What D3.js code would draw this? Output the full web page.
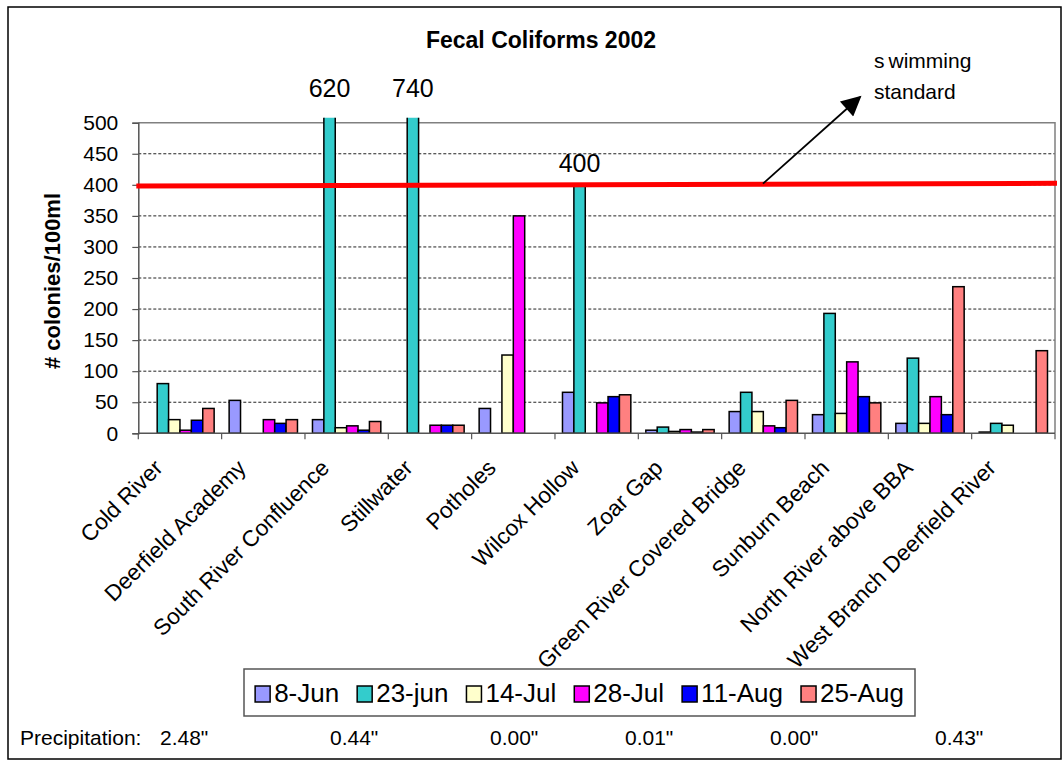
<!DOCTYPE html>
<html>
<head>
<meta charset="utf-8">
<script src="https://cdn.jsdelivr.net/npm/d3@7"></script>
<style>
  html, body { margin: 0; padding: 0; background: #fff; }
  svg { display: block; font-family: "Liberation Sans", Arial, sans-serif; }
</style>
</head>
<body>
<svg id="chart" width="1064" height="762"></svg>
<script>
// Sampling sites along the Deerfield watershed
const categories = [
  "Cold River", "Deerfield Academy", "South River Confluence", "Stillwater",
  "Potholes", "Wilcox Hollow", "Zoar Gap", "Green River Covered Bridge",
  "Sunburn Beach", "North River above BBA", "West Branch Deerfield River"
];

// Sampling dates (series)
const seriesNames = ["8-Jun", "23-jun", "14-Jul", "28-Jul", "11-Aug", "25-Aug"];

// Fecal coliform counts (# colonies / 100 ml); null = no sample
const jun8  = [null, 53, 22, null, 40, 66, 5, 35, 30, 16, 2];
const jun23 = [80, null, 620, 740, null, 400, 10, 66, 193, 121, 16];
const jul14 = [22, null, 9, null, 126, null, 3, 35, 32, 16, 13];
const jul28 = [5, 22, 12, 13, 350, 49, 6, 12, 115, 59, null];
const aug11 = [21, 16, 5, 13, null, 59, 2, 9, 59, 30, null];
const aug25 = [40, 22, 19, 13, null, 62, 6, 53, 49, 236, 133];

const seriesColors = ["#9999FF", "#33CCCC", "#FFFFCC", "#FF00FF", "#0000FF", "#FF8080"];

// Rainfall before each sampling date
const precipitation = ["2.48\"", "0.44\"", "0.00\"", "0.01\"", "0.00\"", "0.43\""];

const yTicks = [0, 50, 100, 150, 200, 250, 300, 350, 400, 450, 500];
const swimmingStandard = 400;

const seriesValues = [jun8, jun23, jul14, jul28, aug11, aug25];
const rows = categories.map((c, i) => ({
  site: c,
  bars: seriesNames.map((s, j) => ({ series: s, value: seriesValues[j][i], color: seriesColors[j] }))
}));

const svg = d3.select("#chart");
const font = "\"Liberation Sans\", Arial, sans-serif";

// outer frame
svg.append("rect").attr("x", 8).attr("y", 7).attr("width", 1053).attr("height", 752)
  .attr("fill", "#fff").attr("stroke", "#000").attr("stroke-width", 1.5);

const plot = { left: 138.3, right: 1055, top: 122.7, bottom: 433.3 };

const x0 = d3.scaleBand().domain(categories).range([plot.left, plot.right])
  .paddingInner(0.18).paddingOuter(0.09);
const x1 = d3.scaleBand().domain(seriesNames).range([0, x0.bandwidth()]);
const y = d3.scaleLinear().domain([0, 500]).range([plot.bottom, plot.top]);

// gridlines
svg.append("g").selectAll("line").data(yTicks.filter(t => t > 0 && t < 500)).join("line")
  .attr("x1", plot.left).attr("x2", plot.right)
  .attr("y1", d => y(d)).attr("y2", d => y(d))
  .attr("stroke", "#222").attr("stroke-width", 1).attr("stroke-dasharray", "3,2");

// plot frame top / right
svg.append("path")
  .attr("d", `M${plot.left},${y(500)}H${plot.right}V${plot.bottom}`)
  .attr("fill", "none").attr("stroke", "#808080").attr("stroke-width", 1.5);

// bars, clipped a little above the top of the scale
svg.append("clipPath").attr("id", "barclip").append("rect")
  .attr("x", plot.left).attr("y", y(500) - 5)
  .attr("width", plot.right - plot.left).attr("height", plot.bottom - y(500) + 5);

const groups = svg.append("g").attr("clip-path", "url(#barclip)")
  .selectAll("g").data(rows).join("g")
  .attr("transform", d => `translate(${x0(d.site)},0)`);

groups.selectAll("rect").data(d => d.bars.filter(b => b.value !== null)).join("rect")
  .attr("x", d => x1(d.series))
  .attr("width", x1.bandwidth())
  .attr("y", d => y(d.value))
  .attr("height", d => y(0) - y(d.value))
  .attr("fill", d => d.color)
  .attr("stroke", "#000").attr("stroke-width", 1.5);

// y axis
const yAxis = svg.append("g").attr("transform", `translate(${plot.left},0)`)
  .call(d3.axisLeft(y).tickValues(yTicks).tickSize(6).tickPadding(14).tickFormat(d3.format("d")));
yAxis.select(".domain").attr("stroke", "#555").attr("stroke-width", 1.5);
yAxis.selectAll(".tick line").attr("stroke", "#555").attr("stroke-width", 1.2);
yAxis.selectAll("text").attr("font-size", 21).attr("font-family", font).attr("fill", "#000");

// x axis: labels at category centres, ticks on category boundaries
const xAxis = svg.append("g").attr("transform", `translate(0,${plot.bottom})`)
  .call(d3.axisBottom(x0).tickSize(0).tickPadding(0));
xAxis.select(".domain").remove();
xAxis.selectAll("text")
  .attr("font-size", 22.5).attr("font-family", font).attr("fill", "#000")
  .attr("text-anchor", "end").attr("x", 0).attr("y", 0).attr("dy", 0)
  .attr("transform", "translate(-16,36) rotate(-45)");

const bounds = categories.map(c => x0(c) - x0.step() * x0.paddingOuter());
bounds.push(plot.right);
svg.append("line").attr("x1", plot.left).attr("x2", plot.right)
  .attr("y1", plot.bottom).attr("y2", plot.bottom)
  .attr("stroke", "#555").attr("stroke-width", 1.5);
svg.append("g").selectAll("line").data(bounds).join("line")
  .attr("x1", d => d).attr("x2", d => d)
  .attr("y1", plot.bottom).attr("y2", plot.bottom + 6)
  .attr("stroke", "#555").attr("stroke-width", 1.2);

// value labels for the highest counts
const labelled = [];
rows.forEach(r => r.bars.forEach(b => {
  if (b.value !== null && b.value >= swimmingStandard) labelled.push({ site: r.site, ...b });
}));
svg.append("g").selectAll("text").data(labelled).join("text")
  .attr("x", d => x0(d.site) + x1(d.series) + x1.bandwidth() / 2)
  .attr("y", d => d.value > 500 ? y(500) - 26 : y(d.value) - 13)
  .attr("text-anchor", "middle").attr("font-size", 25).attr("font-family", font)
  .text(d => d.value);

// swimming standard line
svg.append("line")
  .attr("x1", plot.left - 2).attr("x2", plot.right + 2)
  .attr("y1", y(swimmingStandard - 2)).attr("y2", y(swimmingStandard + 2.5))
  .attr("stroke", "#FF0000").attr("stroke-width", 5);

// pointer to the standard
svg.append("defs").append("marker").attr("id", "arrowhead")
  .attr("viewBox", "0 0 10 10").attr("refX", 9).attr("refY", 5)
  .attr("markerWidth", 24).attr("markerHeight", 20).attr("markerUnits", "userSpaceOnUse")
  .attr("orient", "auto")
  .append("path").attr("d", "M0,0L10,5L0,10Z").attr("fill", "#000");
svg.append("line")
  .attr("x1", 763).attr("y1", y(swimmingStandard + 2))
  .attr("x2", 860).attr("y2", 97)
  .attr("stroke", "#000").attr("stroke-width", 1.8)
  .attr("marker-end", "url(#arrowhead)");

const note = svg.append("text").attr("font-size", 21).attr("font-family", font);
note.append("tspan").attr("x", 874).attr("y", 68).text("s");
note.append("tspan").attr("dx", 4).text("wimming");
note.append("tspan").attr("x", 874).attr("y", 99).text("standard");

// title
svg.append("text").attr("x", 541).attr("y", 48).attr("text-anchor", "middle")
  .attr("font-size", 23).attr("font-weight", "bold").attr("font-family", font)
  .text("Fecal Coliforms 2002");

// y axis title
svg.append("text").attr("transform", "translate(60,281) rotate(-90)")
  .attr("text-anchor", "middle").attr("font-size", 22).attr("font-weight", "bold")
  .attr("font-family", font).text("# colonies/100ml");

// legend
const legend = svg.append("g");
const legendBox = legend.append("rect").attr("fill", "#fff").attr("stroke", "#555").attr("stroke-width", 1.5);
let lx = 0;
const items = legend.append("g");
seriesNames.forEach((s, i) => {
  const g = items.append("g").attr("transform", `translate(${lx},0)`);
  g.append("rect").attr("x", 0).attr("y", -16).attr("width", 15).attr("height", 16)
    .attr("fill", seriesColors[i]).attr("stroke", "#000").attr("stroke-width", 1.5);
  const t = g.append("text").attr("x", 19).attr("y", 0).attr("font-size", 26)
    .attr("font-family", font).text(s);
  lx += 19 + t.node().getComputedTextLength() + 18;
});
lx -= 18;
const boxX = 244, boxW = 671, boxY = 669, boxH = 47;
legendBox.attr("x", boxX).attr("y", boxY).attr("width", boxW).attr("height", boxH);
items.attr("transform", `translate(${boxX + (boxW - lx) / 2},${boxY + 33})`);

// precipitation row
const precipX = [160, 330, 490, 625, 770, 935];
svg.append("text").attr("x", 20).attr("y", 745).attr("font-size", 21).attr("font-family", font)
  .text("Precipitation:");
svg.append("g").selectAll("text").data(precipitation).join("text")
  .attr("x", (d, i) => precipX[i]).attr("y", 745)
  .attr("font-size", 21).attr("font-family", font).text(d => d);
</script>
</body>
</html>
